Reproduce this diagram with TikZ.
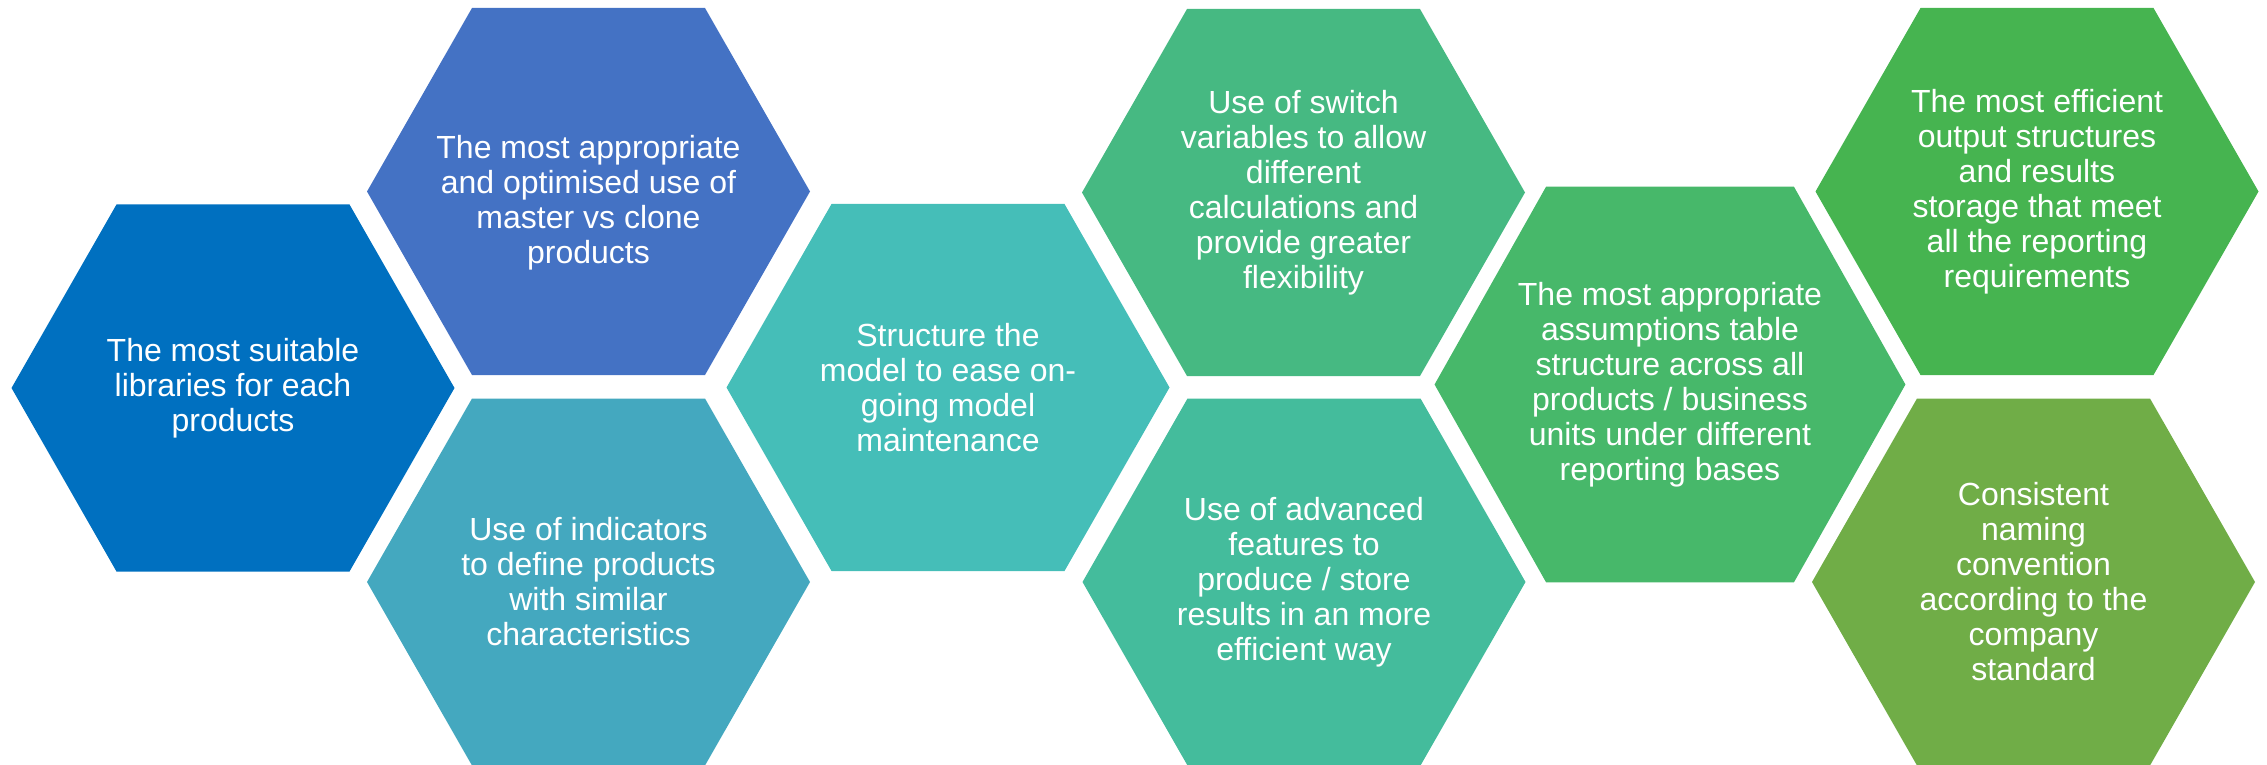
\documentclass[tikz,border=0pt]{standalone}
\usepackage{fontspec}
\setmainfont{Liberation Sans}
\usepackage{tikz}

\definecolor{hexA}{HTML}{0070C0}
\definecolor{hexB}{HTML}{4472C4}
\definecolor{hexC}{HTML}{44A8BF}
\definecolor{hexD}{HTML}{45BEB8}
\definecolor{hexE}{HTML}{46B982}
\definecolor{hexF}{HTML}{44BC9C}
\definecolor{hexG}{HTML}{47B86A}
\definecolor{hexH}{HTML}{46B450}
\definecolor{hexI}{HTML}{70AD47}

\tikzset{
  celltext/.style={text=white, align=center, inner sep=0pt,
    font=\fontsize{16}{17.5}\selectfont}
}

% flat-topped hexagon around a centre
\newcommand{\hexagon}[3][]{%
  \begin{scope}[shift={(#2)},#1]
    \fill[#3] (-221.5,0) -- (-116.5,-183.5) -- (116.5,-183.5) -- (221.5,0)
      -- (116.5,183.5) -- (-116.5,183.5) -- cycle;
  \end{scope}}

\begin{document}
\begin{tikzpicture}[x=0.5pt,y=-0.5pt]
  \useasboundingbox (0,0) rectangle (2267,765);

  \hexagon{233,388}{hexA}
  \hexagon{588.5,191.5}{hexB}
  \hexagon{588.5,582}{hexC}
  \hexagon{948,387.5}{hexD}
  \hexagon{1303.5,192.5}{hexE}
  \hexagon{1304,582}{hexF}
  \hexagon[xscale=1.063,yscale=1.079]{1670,384.5}{hexG}
  \hexagon{2037,191.5}{hexH}
  \hexagon{2033.5,582}{hexI}

  \node[celltext] (libraries) at (233,388)
    {The most suitable\\libraries for each\\products};
  \node[celltext] (master) at (588.5,202.5)
    {The most appropriate\\and optimised use of\\master vs clone\\products};
  \node[celltext] (indicators) at (588.5,582)
    {Use of indicators\\to define products\\with similar\\characteristics};
  \node[celltext] (structure) at (948,387.5)
    {Structure the\\model to ease on-\\going model\\maintenance};
  \node[celltext] (switches) at (1303.5,192.5)
    {Use of switch\\variables to allow\\different\\calculations and\\provide greater\\flexibility};
  \node[celltext] (features) at (1304,582)
    {Use of advanced\\features to\\produce / store\\results in an more\\efficient way};
  \node[celltext] (assumptions) at (1670,384.5)
    {The most appropriate\\assumptions table\\structure across all\\products / business\\units under different\\reporting bases};
  \node[celltext] (outputs) at (2037,191.5)
    {The most efficient\\output structures\\and results\\storage that meet\\all the reporting\\requirements};
  \node[celltext] (naming) at (2033.5,582)
    {Consistent\\naming\\convention\\according to the\\company\\standard};
\end{tikzpicture}
\end{document}
